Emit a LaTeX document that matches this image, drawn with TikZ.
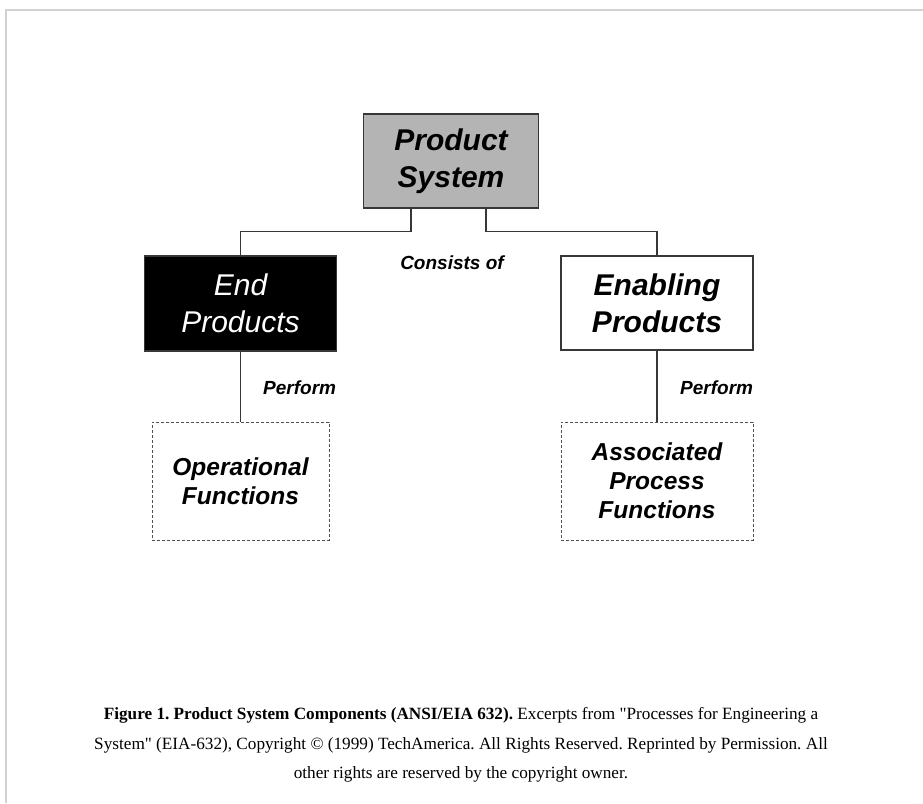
\documentclass[tikz,border=0pt]{standalone}
\usepackage{fontspec}
\setmainfont{Liberation Serif}
\newfontfamily\capfont{Liberation Serif}
\newfontfamily\arialfont{Liberation Sans}
\definecolor{frameline}{RGB}{210,210,210}
\definecolor{boxline}{RGB}{55,55,55}
\definecolor{psfill}{RGB}{180,180,180}
\definecolor{dashline}{RGB}{80,80,80}
\frenchspacing
\begin{document}
\begin{tikzpicture}[x=1pt,y=-1pt,
  bigtext/.style={font=\arialfont\bfseries\itshape\fontsize{30}{37}\selectfont},
  midtext/.style={font=\arialfont\bfseries\itshape\fontsize{24.5}{28.8}\selectfont},
  smalltext/.style={font=\arialfont\bfseries\itshape\fontsize{19}{22}\selectfont},
  solidbox/.style={draw=boxline, line width=1.3pt, inner sep=0pt, align=center},
  dashbox/.style={draw=dashline, line width=0.9pt, dash pattern=on 3pt off 2pt, inner sep=0pt, align=center},
  conn/.style={draw=boxline, line width=1.3pt},
  captext/.style={font=\capfont\fontsize{17.2}{29.5}\selectfont, anchor=base, inner sep=0pt}
]
\useasboundingbox (0,0) rectangle (923,803);
\draw[frameline, line width=1.3pt] (923,10) -- (6,10) -- (6,803);

\node[solidbox, fill=psfill, bigtext, minimum width=175pt, minimum height=94pt] (ps) at (451,161) {Product\\System};
\node[solidbox, fill=black, text=white, font=\arialfont\itshape\fontsize{30}{37}\selectfont, minimum width=192pt, minimum height=95pt] (ep) at (240.5,303.5) {End\\Products};
\node[solidbox, fill=white, bigtext, minimum width=192pt, minimum height=94pt] (enp) at (657,303) {Enabling\\Products};
\node[dashbox, midtext, minimum width=177pt, minimum height=118pt] (of) at (240.5,481) {Operational\\Functions};
\node[dashbox, midtext, minimum width=192pt, minimum height=118pt] (apf) at (657,481) {Associated\\Process\\Functions};

\draw[conn] ([xshift=-40pt]ps.south) -- ++(0,23) -| (ep.north);
\draw[conn] ([xshift=35pt]ps.south) -- ++(0,23) -| (enp.north);
\draw[conn] (ep.south) -- (of.north);
\draw[conn] (enp.south) -- (apf.north);

\node[smalltext, inner sep=0pt] (cons) at (452,263) {Consists of};
\node[smalltext, inner sep=0pt, anchor=west] (perf1) at (263,388) {Perform};
\node[smalltext, inner sep=0pt, anchor=west] (perf2) at (680,388) {Perform};

\node[captext] (cap1) at (461,719) {\textbf{Figure 1. Product System Components (ANSI/EIA 632).} Excerpts from "Processes for Engineering a};
\node[captext] (cap2) at (461,749) {System" (EIA-632), Copyright © (1999) TechAmerica. All Rights Reserved. Reprinted by Permission. All};
\node[captext] (cap3) at (461,778) {other rights are reserved by the copyright owner.};
\end{tikzpicture}
\end{document}
